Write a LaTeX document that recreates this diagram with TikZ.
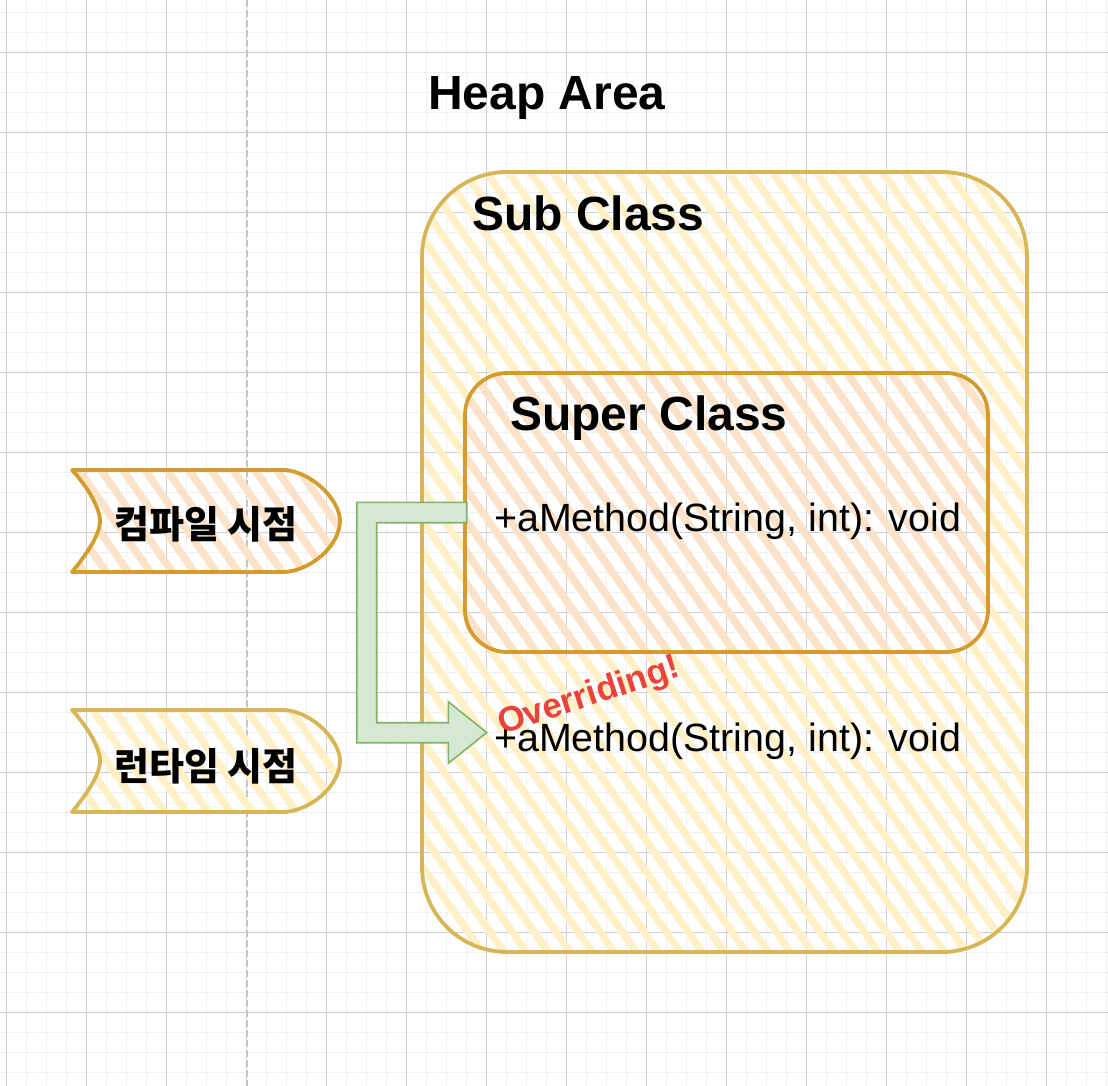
\documentclass[tikz,border=0pt]{standalone}
\usepackage{fontspec}
\setmainfont{Liberation Sans}
\newfontfamily\kr{Noto Sans CJK KR}
\definecolor{gridminor}{RGB}{240,240,240}
\definecolor{gridmajor}{RGB}{208,208,208}
\definecolor{dashgray}{RGB}{196,196,196}
\definecolor{yelstroke}{RGB}{214,182,86}
\definecolor{yelfill}{RGB}{255,240,200}
\definecolor{orstroke}{RGB}{212,155,46}
\definecolor{orfill}{RGB}{251,226,200}
\definecolor{grfill}{RGB}{213,232,212}
\definecolor{grstroke}{RGB}{130,179,102}
\definecolor{ovred}{RGB}{234,67,60}
\newcommand\hachure[2]{%
  \begin{scope}
    \clip #1;
    \foreach \hx in {-800,-778,...,1110}
      \draw[line width=7.5pt,#2,line cap=round] (\hx,0) -- ++(760,1086);
  \end{scope}}
\tikzset{
  outline/.style={line width=3.8pt,line join=round},
  title/.style={font=\bfseries\fontsize{48}{56}\selectfont,inner sep=0pt,anchor=base west},
  method/.style={font=\fontsize{39.4}{48}\selectfont,inner sep=0pt,anchor=base west},
  krlabel/.style={font=\kr\bfseries\fontsize{38}{44}\selectfont,inner sep=0pt},
}
\begin{document}
\begin{tikzpicture}[x=1pt,y=-1pt]
\useasboundingbox (0,0) rectangle (1108,1086);
% grid
\foreach \gx in {6.67,26.67,...,1108} \draw[gridminor,line width=1.3pt] (\gx,0) -- (\gx,1086);
\foreach \gy in {12.3,32.3,...,1086} \draw[gridminor,line width=1.3pt] (0,\gy) -- (1108,\gy);
\foreach \gx in {6.67,86.67,...,1108} \draw[gridmajor,line width=0.8pt] (\gx,0) -- (\gx,1086);
\foreach \gy in {52.3,132.3,...,1086} \draw[gridmajor,line width=0.8pt] (0,\gy) -- (1108,\gy);
% dashed divider
\coordinate (dtop) at (247,0);
\coordinate (dbot) at (247,1086);
\draw[dashgray,line width=1.4pt,dash pattern=on 7pt off 3pt] (dtop) -- (dbot);

% Sub Class
\coordinate (subA) at (422,172);
\coordinate (subB) at (1027,952);
\hachure{[rounded corners=85pt] (subA) rectangle (subB)}{yelfill}
\draw[outline,yelstroke,rounded corners=85pt] (subA) rectangle (subB);

% Super Class
\coordinate (supA) at (465,373);
\coordinate (supB) at (988,652);
\hachure{[rounded corners=42pt] (supA) rectangle (supB)}{orfill}
\draw[outline,orstroke,rounded corners=42pt] (supA) rectangle (supB);

% chevrons
\newcommand\chevpath[1]{(72,#1) -- (285,#1) .. controls (312,#1+2) and (340,#1+30) .. (340,#1+51) .. controls (340,#1+75) and (312,#1+100) .. (285,#1+102) -- (72,#1+102) .. controls (86,#1+85) and (100,#1+65) .. (100,#1+51) .. controls (100,#1+37) and (86,#1+15) .. (72,#1)}
\hachure{\chevpath{470}}{orfill}
\draw[outline,orstroke] \chevpath{470} -- cycle;
\hachure{\chevpath{710}}{yelfill}
\draw[outline,yelstroke] \chevpath{710} -- cycle;

% arrow
\coordinate (a1) at (466.7,502.3);
\draw[fill=grfill,draw=grstroke,line width=1.6pt,line join=miter]
  (a1) -- (356.7,502.3) -- (356.7,742.7) -- (448.3,742.7) -- (448.3,763.3)
  -- (486.7,732.5) -- (448.3,701.7) -- (448.3,722.7) -- (376.7,722.7)
  -- (376.7,522.7) -- (466.7,522.7) -- cycle;

% texts
\node[title,anchor=base] (heap) at (547,110) {Heap Area};
\node[title] (sub) at (472,230) {Sub Class};
\node[title] (super) at (510,430) {Super Class};
\node[method] (m1) at (494,531) {+aMethod(String, int): void};
\node[method] (m2) at (494,751) {+aMethod(String, int): void};
\node[krlabel] (ct) at (206,524) {컴파일 시점};
\node[krlabel] (rt) at (206,766) {런타임 시점};
\node[font=\bfseries\fontsize{35}{40}\selectfont,text=ovred,rotate=18,inner sep=0pt] (ov) at (589,697) {Overriding!};
\end{tikzpicture}
\end{document}
